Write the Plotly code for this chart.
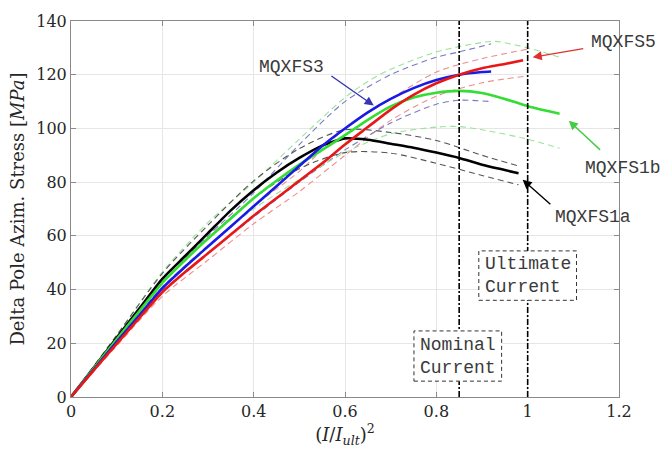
import plotly.graph_objects as go

# ---- data ----
x_1a = [0, 0.05, 0.1, 0.15, 0.2, 0.25, 0.3, 0.35, 0.4, 0.45, 0.5, 0.55, 0.6, 0.65, 0.7, 0.75, 0.8, 0.85, 0.9, 0.95, 0.98]
y_1a = [0, 11, 22, 33, 44, 52.5, 61, 69.5, 77, 83.5, 89, 93.6, 96.3, 95.8, 94.3, 92.8, 91, 89, 86.5, 84.5, 83.3]
xb_1a = [0, 0.1, 0.2, 0.3, 0.4, 0.5, 0.6, 0.7, 0.8, 0.9, 0.98]
up_1a = [0, 23, 46, 64, 80.5, 92.5, 99.5, 98.5, 95.5, 90, 86]
lo_1a = [0, 21, 42.5, 59, 74, 85, 91, 90.8, 87, 82.5, 79]

x_1b = [0, 0.05, 0.1, 0.15, 0.2, 0.25, 0.3, 0.35, 0.4, 0.45, 0.5, 0.55, 0.6, 0.65, 0.7, 0.75, 0.8, 0.85, 0.9, 0.95, 1.0, 1.07]
y_1b = [0, 10.8, 21.5, 32, 42.5, 51, 59, 66.5, 74, 80.5, 86.5, 92, 97.5, 103.2, 108.2, 111.5, 113.3, 114, 113.2, 111, 108.3, 105.5]
xu_1b = [0, 0.1, 0.2, 0.3, 0.4, 0.5, 0.6, 0.65, 0.7, 0.8, 0.9, 0.93, 1.0, 1.07]
up_1b = [0, 23, 46.5, 65, 80, 96, 111.5, 117.5, 122, 128.5, 132, 132.4, 130, 126.5]
xl_1b = [0, 0.1, 0.2, 0.3, 0.4, 0.5, 0.6, 0.7, 0.8, 0.85, 0.9, 1.0, 1.07]
lo_1b = [0, 20.5, 41, 56.5, 70, 81, 91, 98, 100.5, 100.7, 99.5, 96, 92.6]

x_3 = [0, 0.05, 0.1, 0.15, 0.2, 0.25, 0.3, 0.35, 0.4, 0.45, 0.5, 0.55, 0.6, 0.65, 0.7, 0.75, 0.8, 0.85, 0.9, 0.92]
y_3 = [0, 10.3, 20.5, 30.5, 40.5, 48.5, 56, 63.5, 71, 78.5, 86, 93.5, 100, 106, 111, 115, 118, 120, 121, 121.2]
xb_3 = [0, 0.1, 0.2, 0.3, 0.4, 0.5, 0.6, 0.7, 0.8, 0.85, 0.92]
up_3 = [0, 22, 43.5, 60, 76, 94, 110, 120, 126.5, 128.5, 131.5]
lo_3 = [0, 20, 39.5, 53.5, 67, 80, 92, 102, 109, 110.5, 110]

x_5 = [0, 0.05, 0.1, 0.15, 0.2, 0.25, 0.3, 0.35, 0.4, 0.45, 0.5, 0.55, 0.6, 0.65, 0.7, 0.75, 0.8, 0.85, 0.9, 0.95, 0.99]
y_5 = [0, 10, 19.8, 29.5, 39, 46.5, 53.5, 60.5, 67.5, 74, 80.5, 87, 94, 100.5, 107, 112.5, 116.8, 120, 122.4, 124, 125.4]
xb_5 = [0, 0.1, 0.2, 0.3, 0.4, 0.5, 0.6, 0.7, 0.8, 0.9, 1.0]
up_5 = [0, 21, 41, 56, 71, 84, 100, 111, 121, 126, 129.5]
lo_5 = [0, 19, 37.5, 51, 64.5, 76.5, 90, 103, 112, 117, 119.5]

marker_x = [0.85, 1.0]
marker_labels = ["Nominal<br>Current", "Ultimate<br>Current"]

fig = go.Figure()


def dashed(x, y, color):
    fig.add_trace(go.Scatter(x=x, y=y, mode="lines",
                             line=dict(color=color, width=1.1, dash="6px,4px", smoothing=0.8),
                             line_shape="spline", hoverinfo="skip", showlegend=False))


def solid(x, y, color):
    fig.add_trace(go.Scatter(x=x, y=y, mode="lines",
                             line=dict(color=color, width=2.6, smoothing=0.6),
                             line_shape="spline", showlegend=False))


dashed(xb_5, up_5, "#f08c8c"); dashed(xb_5, lo_5, "#f08c8c")
dashed(xb_3, up_3, "#7a7ac4"); dashed(xb_3, lo_3, "#7a7ac4")
dashed(xu_1b, up_1b, "#9be39b"); dashed(xl_1b, lo_1b, "#9be39b")
dashed(xb_1a, up_1a, "#555555"); dashed(xb_1a, lo_1a, "#555555")

solid(x_1a, y_1a, "#000000")
solid(x_1b, y_1b, "#33dd33")
solid(x_3, y_3, "#1a1ae6")
solid(x_5, y_5, "#e81818")

shapes = []
for xv in marker_x:
    shapes.append(dict(type="line", xref="x", yref="y", x0=xv, x1=xv, y0=0, y1=140,
                       line=dict(color="black", width=1.6, dash="6px,2px,2px,2px")))
boxes = [(0.751, 0.943, 5.9, 24.6), (0.893, 1.107, 36, 54.4)]
for (bx0, bx1, by0, by1) in boxes:
    shapes.append(dict(type="rect", xref="x", yref="y", x0=bx0, x1=bx1, y0=by0, y1=by1,
                       fillcolor="white", line=dict(color="#333333", width=1, dash="4px,3px")))
fig.update_layout(shapes=shapes)

mono = dict(family="Liberation Mono", size=18, color="#3a3a3a")
for (bx0, bx1, by0, by1), lab in zip(boxes, marker_labels):
    fig.add_annotation(x=(bx0 + bx1) / 2, y=(by0 + by1) / 2, text=lab, showarrow=False,
                       font=mono, align="left", xref="x", yref="y")

# label text positions in paper coords, arrow tail/head in data coords
arrows = [
    ("MQXFS3", 0.403, 0.878, 0.567, 119.9, 0.663, 108.5, "#3535b5"),
    ("MQXFS5", 1.009, 0.945, 1.125, 129.8, 1.011, 126.5, "#e03030"),
    ("MQXFS1b", 1.007, 0.609, 1.162, 91.5, 1.09, 102.9, "#44cc44"),
    ("MQXFS1a", 0.953, 0.478, 1.053, 71.3, 0.989, 80.9, "#000000"),
]
for name, tx, ty, x0, y0, x1, y1, col in arrows:
    fig.add_annotation(x=tx, y=ty, text=name, showarrow=False, font=mono,
                       xref="paper", yref="paper", xanchor="center", yanchor="middle")
    fig.add_annotation(x=x1, y=y1, ax=x0, ay=y0, axref="x", ayref="y", xref="x", yref="y",
                       text="", showarrow=True, arrowhead=2, arrowsize=1.3, arrowwidth=1.4,
                       arrowcolor=col)

serif = "DejaVu Serif"
axis_common = dict(showgrid=True, gridcolor="#e6e6e6", gridwidth=1, zeroline=False,
                   showline=True, linecolor="#8a8a8a", linewidth=1, mirror="ticks",
                   ticks="inside", ticklen=5, tickcolor="#8a8a8a",
                   tickfont=dict(family=serif, size=16, color="#262626"))
fig.update_xaxes(range=[0, 1.2], dtick=0.2, tick0=0,
                 title=dict(text="(<i>I</i>/<i>I</i><sub><i>ult</i></sub>)<sup>2</sup>",
                            font=dict(family=serif, size=18, color="#262626"), standoff=4),
                 **axis_common)
fig.update_yaxes(range=[0, 140], dtick=20, tick0=0,
                 title=dict(text="Delta Pole Azim. Stress [<i>MPa</i>]",
                            font=dict(family=serif, size=18, color="#262626"), standoff=6),
                 **axis_common)

fig.update_layout(width=662, height=453, margin=dict(l=71, r=43, t=16, b=56),
                  plot_bgcolor="white", paper_bgcolor="white")

fig.write_html("out.html")
